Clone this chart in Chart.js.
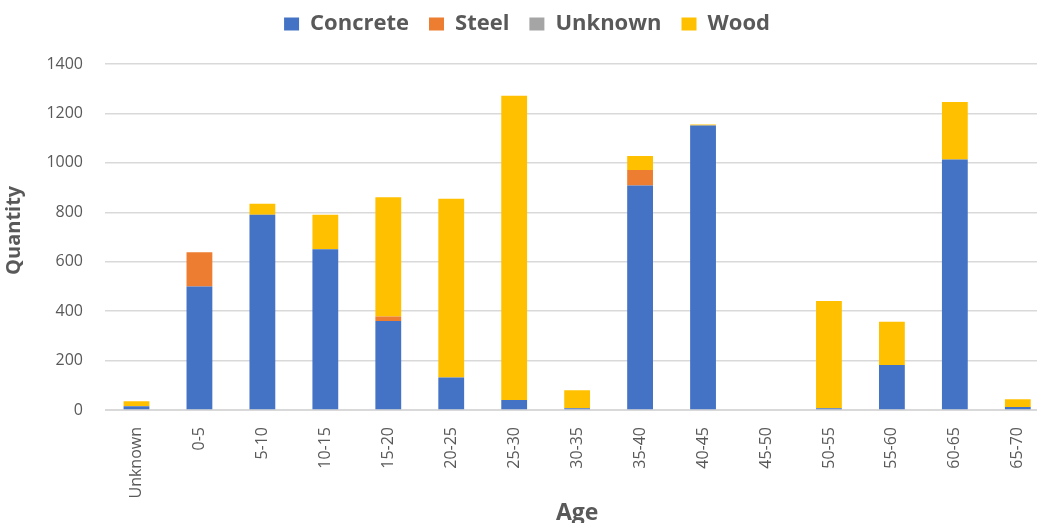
<!DOCTYPE html>
<html>
<head>
<meta charset="utf-8">
<script src="https://cdn.jsdelivr.net/npm/chart.js@4/dist/chart.umd.min.js"></script>
<style>
  html, body { margin: 0; padding: 0; background: #fff; overflow: hidden; }
  /* the original picture is cropped on the right, so the chart is drawn a bit wider than the window */
  #wrap { width: 1054px; height: 523px; position: relative; }
</style>
</head>
<body>
<div id="wrap"><canvas id="chart"></canvas></div>
<script>
const ages = ['Unknown', '0-5', '5-10', '10-15', '15-20', '20-25', '25-30', '30-35',
  '35-40', '40-45', '45-50', '50-55', '55-60', '60-65', '65-70'];

// values
const concrete = [15, 500, 790, 650, 360, 132, 40, 7, 908, 1151, 0, 7, 182, 1014, 12];
const steel    = [0, 138, 0, 0, 18, 0, 0, 0, 63, 0, 0, 0, 0, 0, 0];
const unknown  = [0, 0, 0, 0, 0, 0, 0, 0, 0, 0, 0, 0, 0, 0, 0];
const wood     = [20, 0, 45, 140, 483, 723, 1232, 73, 57, 4, 0, 434, 175, 232, 31];

const yTicks = [0, 200, 400, 600, 800, 1000, 1200, 1400];

const grey = '#595959';
const fontFam = '"Open Sans", "Liberation Sans", sans-serif';

function ds(label, data, color) {
  return {
    label: label,
    data: data,
    backgroundColor: color,
    borderWidth: 0,
    barPercentage: 0.41,
    categoryPercentage: 1
  };
}

// push the plot down a bit below the legend
const legendGap = {
  id: 'legendGap',
  beforeLayout(chart) {
    const lg = chart.legend;
    if (lg && !lg._gap) {
      const fit = lg.fit;
      lg.fit = function() { fit.call(this); this.height += 19; };
      lg._gap = true;
    }
  }
};

new Chart(document.getElementById('chart'), {
  type: 'bar',
  data: {
    labels: ages,
    datasets: [
      ds('Concrete', concrete, '#4472C4'),
      ds('Steel', steel, '#ED7D31'),
      ds('Unknown', unknown, '#A5A5A5'),
      ds('Wood', wood, '#FFC000')
    ]
  },
  plugins: [legendGap],
  options: {
    responsive: true,
    maintainAspectRatio: false,
    animation: false,
    layout: { padding: { top: -7, right: 0, bottom: 0, left: 0 } },
    plugins: {
      tooltip: { enabled: false },
      legend: {
        position: 'top',
        labels: {
          boxWidth: 15,
          boxHeight: 13,
          padding: 20,
          color: grey,
          font: { family: fontFam, size: 22, weight: 'bold' }
        }
      }
    },
    scales: {
      x: {
        stacked: true,
        grid: { display: false, drawTicks: false },
        border: { color: '#D9D9D9', width: 1 },
        ticks: {
          color: grey,
          padding: 17,
          maxRotation: 90,
          minRotation: 90,
          autoSkip: false,
          font: { family: fontFam, size: 16 }
        },
        title: {
          display: true,
          text: 'Age',
          color: grey,
          padding: { top: 0, bottom: -4 },
          font: { family: fontFam, size: 23, weight: 'bold' }
        },
        afterFit: function(scale) { scale.height = 113; }
      },
      y: {
        stacked: true,
        min: 0,
        max: 1400,
        afterBuildTicks: function(scale) {
          scale.ticks = yTicks.map(v => ({ value: v }));
        },
        grid: { color: '#D9D9D9', lineWidth: 1.5, drawTicks: false },
        border: { display: false },
        ticks: {
          color: grey,
          padding: 22,
          callback: v => String(v),
          font: { family: fontFam, size: 16 }
        },
        title: {
          display: true,
          text: '\u2002\u2009Quantity',
          color: grey,
          padding: { top: 2, bottom: 0 },
          font: { family: fontFam, size: 20, weight: 'bold' }
        },
        afterFit: function(scale) { scale.width = 105; }
      }
    }
  }
});
</script>
</body>
</html>
